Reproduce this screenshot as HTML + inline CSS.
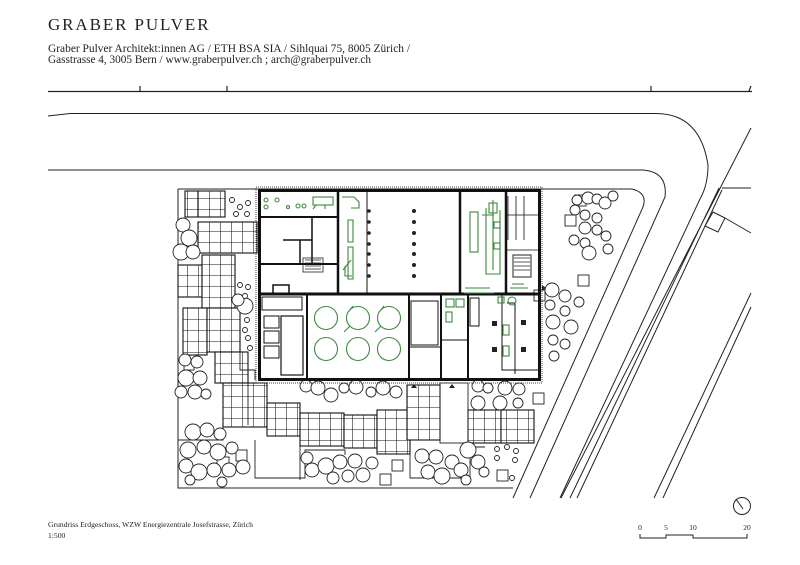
<!DOCTYPE html>
<html><head><meta charset="utf-8"><style>
html,body{margin:0;padding:0;background:#fff;}
svg{display:block;}
text{font-family:"Liberation Serif",serif;fill:#222;}
</style></head><body>
<svg width="800" height="565" viewBox="0 0 800 565" xmlns="http://www.w3.org/2000/svg">
<defs>
<pattern id="g" x="0" y="0" width="11" height="11" patternUnits="userSpaceOnUse">
<rect width="11" height="11" fill="#fff"/><path d="M0 0H11M0 0V11" stroke="#111" stroke-width="1.1"/>
</pattern>
</defs>
<text x="48" y="30" font-size="17" letter-spacing="1.9">GRABER PULVER</text>
<text x="48" y="52" font-size="11.2" textLength="362" lengthAdjust="spacingAndGlyphs">Graber Pulver Architekt:innen AG / ETH BSA SIA / Sihlquai 75, 8005 Zürich /</text>
<text x="48" y="63" font-size="11.2" textLength="323" lengthAdjust="spacingAndGlyphs">Gasstrasse 4, 3005 Bern / www.graberpulver.ch ; arch@graberpulver.ch</text>

<g fill="none" stroke="#222" stroke-width="1">
<path d="M48 91.5H752M140 86V91M227 86V91M651 86V91M749 91L751 86" stroke-width="1.2"/>
<path d="M48 116 L70 113.5 H655 Q700 113 708 165 Q708 185 700 199 L560 498"/>
<path d="M48 170 H643 Q668 172 665 197 L530 498"/>
<path d="M178 189 H632 Q648 193 643 207 L513 498"/>
<path d="M751 128 L561 498M719 188 L570 498M722 190 L577 498"/>
<path d="M751 293 L654 498M751 307 L663 498"/>
<path d="M722 188 H751M713 212 L725 218 L718 232 L705 226 ZM725 218 L751 233"/>
<path d="M178 189 V488 H513"/>
</g>

<g stroke="#111" stroke-width="1.1" fill="url(#g)">
<rect x="185" y="191" width="13" height="26"/>
<rect x="198" y="191" width="27" height="26"/>
<rect x="198" y="222" width="59" height="31"/>
<rect x="178" y="265" width="24" height="32"/>
<rect x="202" y="255" width="33" height="53"/>
<rect x="183" y="308" width="24" height="47"/>
<rect x="207" y="308" width="33" height="44"/>
<rect x="215" y="352" width="33" height="31"/>
<rect x="223" y="383" width="44" height="44"/>
<rect x="267" y="403" width="33" height="33"/>
<rect x="300" y="413" width="44" height="33"/>
<rect x="344" y="415" width="33" height="33"/>
<rect x="377" y="410" width="33" height="44"/>
<rect x="407" y="385" width="33" height="55"/>
<rect x="468" y="410" width="33" height="33"/>
<rect x="501" y="410" width="33" height="33"/>
</g>
<g fill="none" stroke="#222" stroke-width="0.9">
<path d="M240 352 V370 H255 V380 M248 383 V425 M223 427 V440 H178"/>
<path d="M255 440 V478 H305 V450 H345 V455 M300 446 V480 M410 454 V478 H470 V447 H485"/>
<rect x="440" y="383" width="28" height="60"/>
<rect x="184" y="360" width="10" height="10"/>
<rect x="217" y="457" width="12" height="12"/><rect x="236" y="450" width="11" height="11"/>
<rect x="392" y="460" width="11" height="11"/><rect x="380" y="474" width="11" height="11"/>
<rect x="533" y="393" width="11" height="11"/><rect x="497" y="470" width="11" height="11"/>
<rect x="575" y="195" width="11" height="11"/><rect x="565" y="215" width="11" height="11"/>
<rect x="578" y="275" width="11" height="11"/><rect x="534" y="290" width="11" height="11"/>
</g>

<g fill="#fff" stroke="#222" stroke-width="0.9">
<circle cx="183" cy="225" r="7"/><circle cx="189" cy="238" r="8"/><circle cx="181" cy="252" r="8"/><circle cx="193" cy="252" r="7"/>
<circle cx="185" cy="360" r="6"/><circle cx="197" cy="362" r="6"/><circle cx="186" cy="378" r="8"/><circle cx="200" cy="378" r="7"/><circle cx="195" cy="392" r="7"/><circle cx="181" cy="392" r="6"/><circle cx="206" cy="394" r="5"/>
<circle cx="245" cy="306" r="8"/><circle cx="238" cy="300" r="6"/>
<circle cx="193" cy="432" r="8"/><circle cx="207" cy="430" r="7"/><circle cx="220" cy="434" r="6"/><circle cx="188" cy="450" r="8"/><circle cx="204" cy="447" r="7"/><circle cx="218" cy="452" r="8"/><circle cx="232" cy="448" r="6"/><circle cx="186" cy="466" r="7"/><circle cx="199" cy="472" r="8"/><circle cx="214" cy="470" r="7"/><circle cx="229" cy="470" r="7"/><circle cx="243" cy="467" r="7"/><circle cx="190" cy="480" r="5"/><circle cx="222" cy="482" r="5"/>
<circle cx="306" cy="386" r="6"/><circle cx="318" cy="388" r="7"/><circle cx="331" cy="395" r="7"/><circle cx="344" cy="388" r="5"/><circle cx="356" cy="387" r="7"/><circle cx="371" cy="392" r="5"/><circle cx="383" cy="388" r="7"/><circle cx="396" cy="392" r="6"/>
<circle cx="307" cy="458" r="6"/><circle cx="312" cy="470" r="7"/><circle cx="326" cy="466" r="8"/><circle cx="340" cy="462" r="7"/><circle cx="355" cy="461" r="7"/><circle cx="363" cy="475" r="7"/><circle cx="348" cy="476" r="6"/><circle cx="333" cy="478" r="6"/><circle cx="372" cy="463" r="6"/>
<circle cx="422" cy="456" r="7"/><circle cx="436" cy="457" r="7"/><circle cx="452" cy="462" r="7"/><circle cx="468" cy="450" r="8"/><circle cx="478" cy="462" r="7"/><circle cx="428" cy="472" r="7"/><circle cx="442" cy="476" r="8"/><circle cx="461" cy="470" r="7"/><circle cx="466" cy="480" r="5"/><circle cx="484" cy="472" r="5"/>
<circle cx="478" cy="386" r="6"/><circle cx="488" cy="388" r="5"/><circle cx="505" cy="388" r="7"/><circle cx="519" cy="389" r="6"/><circle cx="478" cy="403" r="7"/><circle cx="500" cy="403" r="7"/><circle cx="518" cy="403" r="5"/>
<circle cx="577" cy="200" r="5"/><circle cx="588" cy="198" r="6"/><circle cx="597" cy="199" r="5"/><circle cx="605" cy="203" r="6"/><circle cx="613" cy="196" r="5"/><circle cx="575" cy="210" r="5"/><circle cx="585" cy="215" r="5"/><circle cx="597" cy="218" r="5"/><circle cx="585" cy="228" r="6"/><circle cx="597" cy="230" r="5"/><circle cx="606" cy="236" r="5"/><circle cx="574" cy="240" r="5"/><circle cx="585" cy="243" r="5"/><circle cx="589" cy="253" r="7"/><circle cx="608" cy="249" r="5"/>
<circle cx="552" cy="290" r="7"/><circle cx="565" cy="296" r="6"/><circle cx="550" cy="305" r="5"/><circle cx="565" cy="311" r="5"/><circle cx="579" cy="302" r="5"/><circle cx="553" cy="322" r="7"/><circle cx="571" cy="327" r="7"/><circle cx="553" cy="340" r="5"/><circle cx="565" cy="344" r="5"/><circle cx="554" cy="356" r="5"/>
<circle cx="232" cy="200" r="2.5"/><circle cx="240" cy="207" r="2.5"/><circle cx="248" cy="203" r="2.5"/><circle cx="236" cy="214" r="2.5"/><circle cx="247" cy="214" r="2.5"/>
<circle cx="240" cy="285" r="2.5"/><circle cx="248" cy="287" r="2.5"/><circle cx="245" cy="296" r="2.5"/>
<circle cx="247" cy="320" r="2.5"/><circle cx="245" cy="330" r="2.5"/><circle cx="248" cy="338" r="2.5"/><circle cx="250" cy="348" r="2.5"/>
<circle cx="497" cy="449" r="2.5"/><circle cx="507" cy="447" r="2.5"/><circle cx="516" cy="451" r="2.5"/><circle cx="497" cy="458" r="2.5"/><circle cx="515" cy="460" r="2.5"/><circle cx="512" cy="478" r="2.5"/>
</g>

<rect x="256" y="187" width="286" height="196" fill="none" stroke="#444" stroke-width="1" stroke-dasharray="1 1"/>
<g fill="none" stroke="#111">
<rect x="259.5" y="190.5" width="280" height="189" stroke-width="3"/>
<path d="M259 294H540" stroke-width="3"/>
<path d="M338 190V294M460 190V294M506 190V294" stroke-width="2.5"/>
<path d="M367 190V294" stroke-width="1"/>
<path d="M259 217H338M259 264H338" stroke-width="2"/>
<path d="M312 217V264M283 240H312M300 240V264" stroke-width="1.5"/>
<path d="M307 294V380M409 294V380M441 294V380M468 294V380" stroke-width="2"/>
<path d="M502 294V370H540M441 340H468M409 347H441" stroke-width="1"/>
<rect x="262" y="297" width="40" height="13" stroke-width="1"/>
<rect x="281" y="316" width="22" height="59" stroke-width="1.2"/>
<rect x="264" y="316" width="15" height="12" stroke-width="1"/>
<rect x="264" y="331" width="15" height="12" stroke-width="1"/>
<rect x="264" y="346" width="15" height="12" stroke-width="1"/>
<rect x="411" y="301" width="27" height="44" stroke-width="1"/>
<rect x="470" y="298" width="9" height="28" stroke-width="1"/>
<rect x="273" y="285" width="16" height="9" stroke-width="1.5"/>
<path d="M506 215H539M506 250H539M508 196V240M516 196V240M524 196V240" stroke-width="0.8"/>
<path d="M507 303H515V374" stroke-width="1"/>
</g>
<g fill="#222">
<rect x="303" y="258" width="20" height="14" fill="none" stroke="#222" stroke-width="0.8"/>
<path d="M305 260h16M305 263h16M305 266h16M305 269h16" stroke="#222" stroke-width="0.8"/>
<rect x="513" y="255" width="18" height="22" fill="none" stroke="#222"/>
<path d="M514 258h16M514 262h16M514 266h16M514 270h16" stroke="#222" stroke-width="0.8"/>
<rect x="492" y="321" width="5" height="5"/><rect x="521" y="320" width="5" height="5"/><rect x="492" y="347" width="5" height="5"/><rect x="521" y="347" width="5" height="5"/>
<circle cx="414" cy="211" r="2"/><circle cx="414" cy="222" r="2"/><circle cx="414" cy="233" r="2"/><circle cx="414" cy="244" r="2"/><circle cx="414" cy="254" r="2"/><circle cx="414" cy="265" r="2"/><circle cx="414" cy="276" r="2"/>
<circle cx="369" cy="211" r="1.8"/><circle cx="369" cy="222" r="1.8"/><circle cx="369" cy="233" r="1.8"/><circle cx="369" cy="244" r="1.8"/><circle cx="369" cy="254" r="1.8"/><circle cx="369" cy="265" r="1.8"/><circle cx="369" cy="276" r="1.8"/>
<path d="M414 384l3 4h-6zM452 384l3 4h-6zM542 285l4 3-4 3z"/>
</g>
<g fill="none" stroke="#3a8a3a" stroke-width="1.1">
<circle cx="326" cy="318" r="11.5"/><circle cx="358" cy="318" r="11.5"/><circle cx="389" cy="318" r="11.5"/>
<circle cx="326" cy="349" r="11.5"/><circle cx="358" cy="349" r="11.5"/><circle cx="389" cy="349" r="11.5"/>
<path d="M350 326l-6 6M381 326l-6 6M350 310l3-4M381 310l3-4"/>
<rect x="470" y="212" width="8" height="40"/>
<path d="M486 208V274H500V210M482 215h12M493 200v70"/>
<rect x="489" y="203" width="8" height="10"/><rect x="494" y="222" width="6" height="6"/><rect x="494" y="243" width="6" height="6"/>
<path d="M464 293h30M465 288h25"/>
<path d="M348 220v22h5v-22zM348 247v32h5v-32z"/>
<path d="M343 270l8-10M345 266v10h7"/>
<path d="M342 197h12l5 5v6h-8"/>
<rect x="313" y="197" width="20" height="8"/><path d="M316 205l-3 4M325 205v4"/>
<circle cx="266" cy="200" r="2"/><circle cx="266" cy="207" r="2"/><circle cx="277" cy="200" r="2"/><circle cx="288" cy="207" r="1.5"/><circle cx="298" cy="206" r="2"/><circle cx="304" cy="206" r="2"/>
<rect x="446" y="299" width="8" height="8"/><rect x="456" y="299" width="8" height="8"/>
<rect x="446" y="312" width="6" height="10"/>
<rect x="503" y="325" width="6" height="10"/><rect x="503" y="346" width="6" height="10"/>
<circle cx="512" cy="301" r="4"/><rect x="498" y="297" width="6" height="6"/>
<path d="M510 288h18M512 284h12"/>
</g>

<text x="48" y="527" font-size="7.6" textLength="205" lengthAdjust="spacingAndGlyphs">Grundriss Erdgeschoss, WZW Energiezentrale Josefstrasse, Zürich</text>
<text x="48" y="538" font-size="7.6">1:500</text>
<g font-size="7.5" text-anchor="middle">
<text x="640" y="530">0</text><text x="666" y="530">5</text><text x="693" y="530">10</text><text x="747" y="530">20</text>
</g>
<path d="M640 534V538H666V535H693V538H747V534" fill="none" stroke="#222" stroke-width="1"/>
<circle cx="742" cy="506" r="8.5" fill="none" stroke="#222" stroke-width="1"/>
<path d="M736 499L743 509" stroke="#222" stroke-width="1"/>
</svg>
</body></html>
